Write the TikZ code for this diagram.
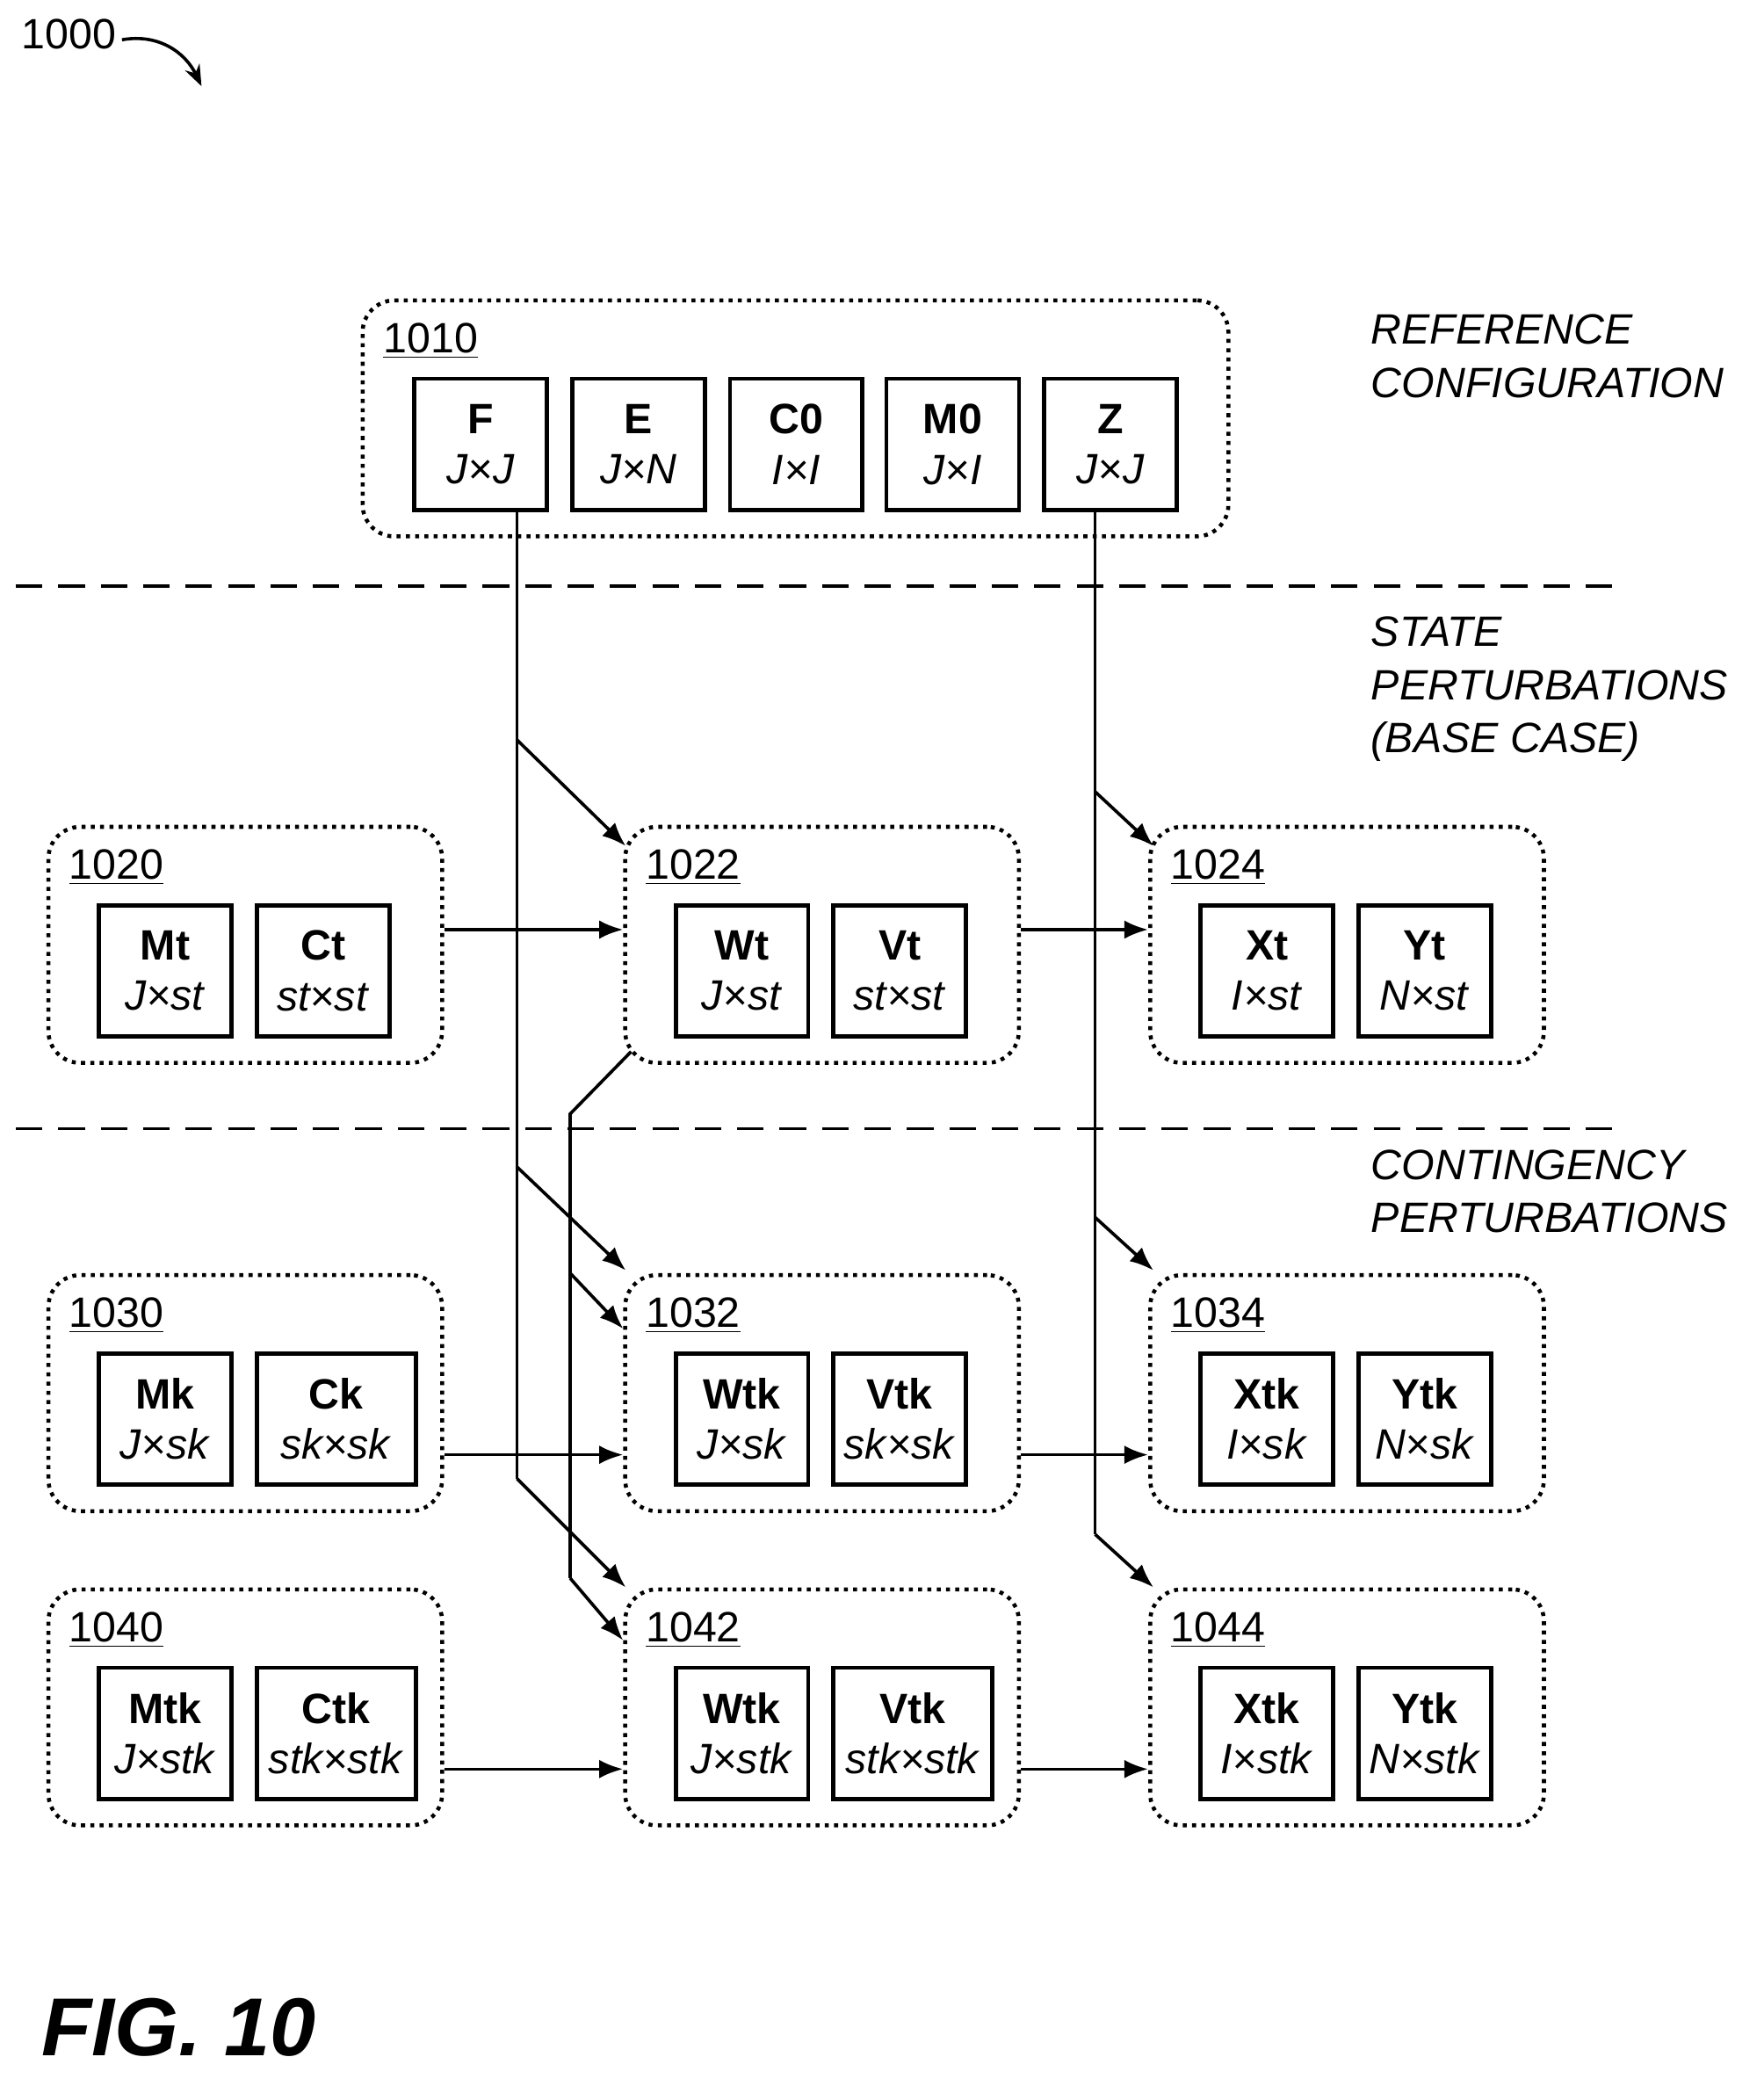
\documentclass[tikz,border=0pt]{standalone}
\usepackage{fontspec}
\setmainfont{Liberation Sans}
\usetikzlibrary{positioning,arrows.meta}

\tikzset{every picture/.style={line width=1.2pt}}
\tikzset{
  grp/.style={draw,dotted,line width=1.5pt,rounded corners=12pt,anchor=north west,inner sep=0pt},
  mat/.style={draw,line width=1.6pt,anchor=north west,minimum height=49.5pt,inner sep=0pt,align=center,font=\fontsize{16}{20}\selectfont},
  gid/.style={anchor=base west,inner sep=0pt,font=\fontsize{16}{20}\selectfont},
  side/.style={anchor=north west,inner sep=0pt,align=left,font=\fontsize{16}{20}\selectfont\itshape},
  sep/.style={dashed,dash pattern=on 10pt off 6pt,line width=1.2pt},
  arr/.style={-{Latex[length=9pt,width=7pt]},line width=1.2pt}
}
\newcommand{\mlab}[2]{\textbf{#1}\\[-1pt]\textit{#2}}

\begin{document}
\begin{tikzpicture}[x=0.5pt,y=-0.5pt]
\useasboundingbox (0,0) rectangle (1330,1573);

% label and arrow
\node[gid] (fig) at (15,37) {1000};
\draw[-{Stealth[length=8pt]}] (92,30) .. controls (120,25) and (140,40) .. (152,65);

% separators
\draw[sep] (12,442) -- (1225,442);
\draw[sep] (12,851) -- (1225,851);

% side texts
\node[side] (tref) at (1033,236) {REFERENCE\\CONFIGURATION};
\node[side] (tstate) at (1033,464) {STATE\\PERTURBATIONS\\(BASE CASE)};
\node[side] (tcont) at (1033,866) {CONTINGENCY\\PERTURBATIONS};

% reference group
\node[grp,minimum width=326.5pt,minimum height=89pt] (g1010) at (272,225) {};
\node[gid] at (288,266) {\underline{1010}};
\node[mat,minimum width=50pt] (mF) at (311,284) {\mlab{F}{J×J}};
\node[mat,minimum width=50pt] (mE) at (430,284) {\mlab{E}{J×N}};
\node[mat,minimum width=50pt] (mC0) at (549,284) {\mlab{C0}{I×I}};
\node[mat,minimum width=50pt] (mM0) at (667,284) {\mlab{M0}{J×I}};
\node[mat,minimum width=50pt] (mZ) at (786,284) {\mlab{Z}{J×J}};

% group rows: x, y, id, names
\foreach \gx/\gy/\gn/\an/\ad/\aw/\bn/\bd/\bw in {
  35/622/1020/Mt/J×st/50/Ct/st×st/50,
  470/622/1022/Wt/J×st/50/Vt/st×st/50,
  866/622/1024/Xt/I×st/50/Yt/N×st/50,
  35/960/1030/Mk/J×sk/50/Ck/sk×sk/60,
  470/960/1032/Wtk/J×sk/50/Vtk/sk×sk/50,
  866/960/1034/Xtk/I×sk/50/Ytk/N×sk/50,
  35/1197/1040/Mtk/J×stk/50/Ctk/stk×stk/60,
  470/1197/1042/Wtk/J×stk/50/Vtk/stk×stk/60,
  866/1197/1044/Xtk/I×stk/50/Ytk/N×stk/50}{
  \node[grp,minimum width=148.5pt,minimum height=89pt] (g\gn) at (\gx,\gy) {};
  \node[gid] at (\gx+16,\gy+41) {\underline{\gn}};
  \node[mat,minimum width=\aw pt] (a\gn) at (\gx+38,\gy+59) {\mlab{\an}{\ad}};
  \node[mat,minimum width=\bw pt] (b\gn) at (\gx+157,\gy+59) {\mlab{\bn}{\bd}};
}

% horizontal flows
\draw[arr] (g1020.east |- 0,701) -- (g1022.west |- 0,701);
\draw[arr] (g1022.east |- 0,701) -- (g1024.west |- 0,701);
\draw[arr] (g1030.east |- 0,1097) -- (g1032.west |- 0,1097);
\draw[arr] (g1032.east |- 0,1097) -- (g1034.west |- 0,1097);
\draw[arr] (g1040.east |- 0,1334) -- (g1042.west |- 0,1334);
\draw[arr] (g1042.east |- 0,1334) -- (g1044.west |- 0,1334);

% F bus
\coordinate (fa) at (390,558);
\coordinate (fb) at (390,880);
\coordinate (fc) at (390,1115);
\draw (mF.south -| 390,0) -- (fc);
\draw[arr] (fa) -- (472,638);
\draw[arr] (fb) -- (472,958);
\draw[arr] (fc) -- (472,1197);

% Z bus
\coordinate (za) at (826,597);
\coordinate (zb) at (826,918);
\coordinate (zc) at (826,1157);
\draw (mZ.south -| 826,0) -- (zc);
\draw[arr] (za) -- (870,638);
\draw[arr] (zb) -- (870,958);
\draw[arr] (zc) -- (870,1197);

% Wt bus
\coordinate (wa) at (430,960);
\coordinate (wb) at (430,1190);
\draw (476,793) -- (430,840) -- (wb);
\draw[arr] (wa) -- (470,1002);
\draw[arr] (wb) -- (470,1237);

% figure label
\node[anchor=base west,inner sep=0pt,font=\fontsize{31}{36}\selectfont\bfseries\itshape] (title) at (30,1550) {FIG. 10};
\end{tikzpicture}
\end{document}
